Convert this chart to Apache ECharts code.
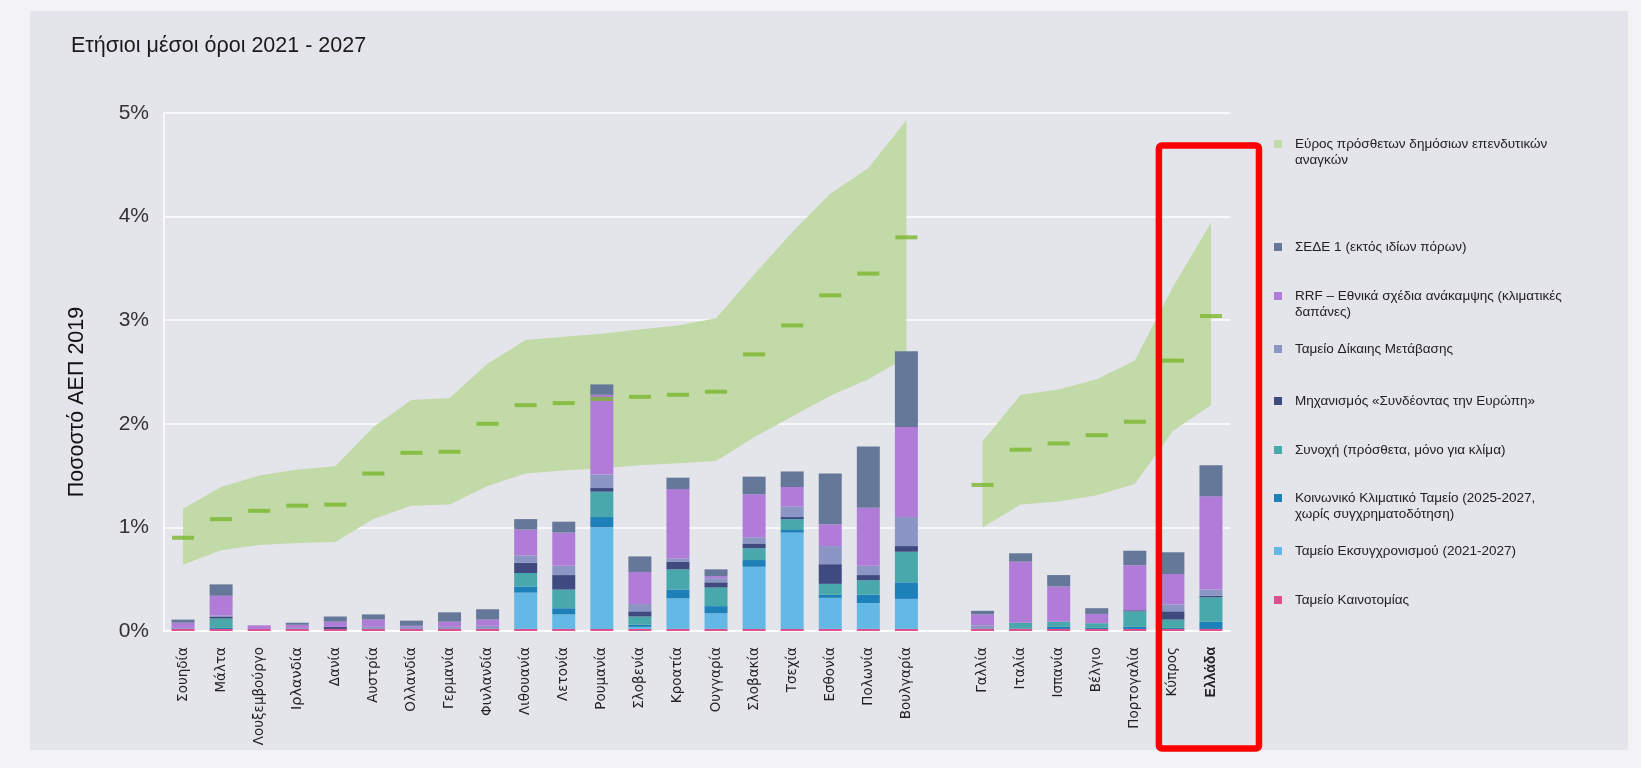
<!DOCTYPE html>
<html lang="el">
<head>
<meta charset="utf-8">
<title>Ετήσιοι μέσοι όροι 2021 - 2027</title>
<script src="https://cdn.jsdelivr.net/npm/echarts@6/dist/echarts.min.js"></script>
<style>
  html, body { margin: 0; padding: 0; width: 1641px; height: 768px; background: #f3f3f6; overflow: hidden; }
  .panel { position: absolute; left: 30px; top: 11px; width: 1598px; height: 739px; background: #e4e4eb; }
  #chart { position: absolute; left: 0; top: 0; width: 1641px; height: 768px; }
</style>
</head>
<body>
<div class="panel"></div>
<div id="chart"></div>
<script>
// χώρες (η κενή θέση χωρίζει τις δύο ομάδες)
var countries = ['Σουηδία', 'Μάλτα', 'Λουξεμβούργο', 'Ιρλανδία', 'Δανία', 'Αυστρία', 'Ολλανδία', 'Γερμανία',
  'Φινλανδία', 'Λιθουανία', 'Λετονία', 'Ρουμανία', 'Σλοβενία', 'Κροατία', 'Ουγγαρία', 'Σλοβακία', 'Τσεχία',
  'Εσθονία', 'Πολωνία', 'Βουλγαρία', '', 'Γαλλία', 'Ιταλία', 'Ισπανία', 'Βέλγιο', 'Πορτογαλία', 'Κύπρος', 'Ελλάδα'];

// εύρος πρόσθετων επενδυτικών αναγκών (% ΑΕΠ 2019)
var rangeLow = [0.64, 0.78, 0.83, 0.85, 0.86, 1.08, 1.21, 1.22, 1.40, 1.52, 1.55, 1.57, 1.60, 1.62, 1.64, 1.87, 2.07, 2.27, 2.43, 2.64,
  null, 1.00, 1.22, 1.25, 1.31, 1.42, 1.93, 2.18];
var rangeHigh = [1.18, 1.39, 1.50, 1.56, 1.59, 1.97, 2.23, 2.25, 2.58, 2.81, 2.84, 2.87, 2.91, 2.95, 3.02, 3.44, 3.85, 4.22, 4.47, 4.93,
  null, 1.83, 2.28, 2.33, 2.43, 2.61, 3.32, 3.94];
var rangeMid = [0.90, 1.08, 1.16, 1.21, 1.22, 1.52, 1.72, 1.73, 2.00, 2.18, 2.20, 2.24, 2.26, 2.28, 2.31, 2.67, 2.95, 3.24, 3.45, 3.80,
  null, 1.41, 1.75, 1.81, 1.89, 2.02, 2.61, 3.04];

// πηγές χρηματοδότησης (στοίβα, από κάτω προς τα πάνω)
var innovation = [0.02, 0.02, 0.02, 0.02, 0.02, 0.02, 0.02, 0.02, 0.02, 0.02, 0.02, 0.02, 0.02, 0.02, 0.02, 0.02, 0.02, 0.02, 0.02, 0.02,
  null, 0.02, 0.02, 0.02, 0.02, 0.02, 0.02, 0.02];
var modernisation = [0, 0, 0, 0, 0, 0, 0, 0, 0, 0.35, 0.14, 0.98, 0.02, 0.295, 0.15, 0.60, 0.93, 0.30, 0.25, 0.29,
  null, 0, 0, 0, 0, 0, 0, 0];
var socialClimate = [0, 0.01, 0, 0, 0, 0, 0, 0, 0, 0.06, 0.06, 0.10, 0.02, 0.085, 0.07, 0.065, 0.025, 0.03, 0.08, 0.16,
  null, 0, 0.005, 0.02, 0.01, 0.02, 0.01, 0.07];
var cohesion = [0, 0.09, 0, 0, 0, 0, 0, 0, 0, 0.13, 0.18, 0.245, 0.08, 0.195, 0.18, 0.115, 0.105, 0.105, 0.14, 0.295,
  null, 0, 0.055, 0.05, 0.045, 0.15, 0.08, 0.235];
var cef = [0, 0.02, 0, 0, 0.02, 0, 0, 0, 0, 0.10, 0.14, 0.035, 0.05, 0.075, 0.05, 0.045, 0.02, 0.19, 0.05, 0.055,
  null, 0, 0, 0, 0, 0.01, 0.08, 0.015];
var jtf = [0.01, 0.01, 0, 0.01, 0, 0.02, 0.02, 0.02, 0.03, 0.07, 0.09, 0.13, 0.07, 0.03, 0.04, 0.06, 0.10, 0.175, 0.09, 0.28,
  null, 0.035, 0, 0, 0, 0, 0.065, 0.06];
var rrf = [0.05, 0.19, 0.035, 0.03, 0.05, 0.07, 0.01, 0.05, 0.06, 0.25, 0.32, 0.77, 0.31, 0.67, 0.02, 0.415, 0.19, 0.21, 0.56, 0.87,
  null, 0.105, 0.59, 0.34, 0.09, 0.435, 0.295, 0.90];
var ets = [0.03, 0.11, 0, 0.02, 0.05, 0.05, 0.05, 0.09, 0.10, 0.10, 0.105, 0.10, 0.15, 0.11, 0.065, 0.17, 0.15, 0.49, 0.59, 0.73,
  null, 0.035, 0.08, 0.11, 0.055, 0.14, 0.21, 0.30];

var yTicks = [0, 1, 2, 3, 4, 5];

var RANGE_NAME = 'Εύρος πρόσθετων δημόσιων επενδυτικών\nαναγκών';
var bandColor = '#c1daa7';
var dashColor = '#79b62b';
var labelFont = 'Liberation Sans, Arial, sans-serif';

// ονόματα, χρώματα και θέση υπομνήματος
var fundSeries = [
  { name: 'Ταμείο Καινοτομίας', data: innovation, color: '#dc508c', legendY: 600 },
  { name: 'Ταμείο Εκσυγχρονισμού (2021-2027)', data: modernisation, color: '#64b8e6', legendY: 551 },
  { name: 'Κοινωνικό Κλιματικό Ταμείο (2025-2027,\nχωρίς συγχρηματοδότηση)', data: socialClimate, color: '#1e80b8', legendY: 498 },
  { name: 'Συνοχή (πρόσθετα, μόνο για κλίμα)', data: cohesion, color: '#48a8ac', legendY: 450 },
  { name: 'Μηχανισμός «Συνδέοντας την Ευρώπη»', data: cef, color: '#3e4a80', legendY: 401 },
  { name: 'Ταμείο Δίκαιης Μετάβασης', data: jtf, color: '#8c96c4', legendY: 349 },
  { name: 'RRF – Εθνικά σχέδια ανάκαμψης (κλιματικές\nδαπάνες)', data: rrf, color: '#b07cd8', legendY: 296 },
  { name: 'ΣΕΔΕ 1 (εκτός ιδίων πόρων)', data: ets, color: '#667899', legendY: 247 }
];

var chart = echarts.init(document.getElementById('chart'));

var series = [
  {
    name: 'rangeBase',
    type: 'line',
    stack: 'range',
    data: rangeLow,
    symbol: 'none',
    silent: true,
    lineStyle: { opacity: 0 },
    z: 1
  },
  {
    name: RANGE_NAME,
    type: 'line',
    stack: 'range',
    data: rangeHigh.map(function (v, i) { return v == null ? null : +(v - rangeLow[i]).toFixed(3); }),
    symbol: 'none',
    silent: true,
    itemStyle: { color: bandColor },
    lineStyle: { opacity: 0 },
    areaStyle: { color: bandColor, opacity: 1 },
    z: 1
  }
];

fundSeries.forEach(function (s) {
  series.push({
    name: s.name,
    type: 'bar',
    stack: 'funds',
    barWidth: 23,
    data: s.data,
    itemStyle: { color: s.color },
    z: 3
  });
});

series.push({
  name: 'mid',
  type: 'scatter',
  data: rangeMid,
  symbol: 'rect',
  symbolSize: [22, 4],
  itemStyle: { color: dashColor },
  silent: true,
  z: 5
});

// ένα υπόμνημα για κάθε γραμμή, ώστε οι αποστάσεις να είναι σταθερές
var legendRows = [{ name: RANGE_NAME, color: bandColor, legendY: 144 }].concat(fundSeries.slice().reverse());
var legends = legendRows.map(function (r) {
  var twoLines = r.name.indexOf('\n') >= 0;
  return {
    data: [{ name: r.name, itemStyle: { color: r.color } }],
    left: 1274,
    top: r.legendY - (twoLines ? 24 : 8),
    padding: 0,
    icon: 'rect',
    itemWidth: 8,
    itemHeight: 8,
    selectedMode: false,
    // κενή πρώτη γραμμή: το τετράγωνο μένει δίπλα στην πρώτη γραμμή του κειμένου
    formatter: twoLines ? function (name) { return '\n' + name; } : '{name}',
    textStyle: {
      fontFamily: labelFont,
      fontSize: 13.5,
      lineHeight: 16,
      color: '#222',
      padding: [0, 0, 0, 8]
    }
  };
});

var option = {
  animation: false,
  title: {
    text: 'Ετήσιοι μέσοι όροι 2021 - 2027',
    left: 66,
    top: 30,
    textStyle: {
      fontFamily: labelFont,
      fontSize: 21.5,
      fontWeight: 'normal',
      color: '#1a1a1a'
    }
  },
  legend: legends,
  grid: { left: 164, right: 411, top: 113, bottom: 137 },
  xAxis: {
    type: 'category',
    data: countries.map(function (c) {
      if (c === 'Ελλάδα') return { value: c, textStyle: { fontWeight: 'bold', fontFamily: labelFont, fontSize: 14 } };
      if (c === 'Ιρλανδία') return { value: c, textStyle: { fontSize: 14.5 } };
      return c;
    }),
    axisTick: { show: false },
    axisLine: { lineStyle: { color: '#ffffff', width: 2 } },
    axisLabel: {
      interval: 0,
      rotate: 90,
      margin: 16,
      fontFamily: 'DejaVu Sans, sans-serif',
      fontSize: 13.5,
      color: '#222'
    }
  },
  yAxis: {
    type: 'value',
    min: yTicks[0],
    max: yTicks[yTicks.length - 1],
    interval: 1,
    name: 'Ποσοστό ΑΕΠ 2019',
    nameLocation: 'middle',
    nameGap: 76,
    nameTextStyle: {
      fontFamily: labelFont,
      fontSize: 21.5,
      color: '#111',
      padding: [0, 60, 0, 0]
    },
    axisLine: { show: true, lineStyle: { color: '#ffffff', width: 1.5 } },
    axisTick: { show: false },
    splitLine: { lineStyle: { color: '#ffffff', width: 1.5 } },
    axisLabel: {
      margin: 15,
      formatter: '{value}%',
      fontFamily: labelFont,
      fontSize: 21,
      color: '#333'
    }
  },
  series: series
};

chart.setOption(option);

// κόκκινο πλαίσιο γύρω από Κύπρο και Ελλάδα
var xCy = chart.convertToPixel({ xAxisIndex: 0 }, 'Κύπρος');
var xGr = chart.convertToPixel({ xAxisIndex: 0 }, 'Ελλάδα');
chart.setOption({
  graphic: [{
    type: 'rect',
    z: 100,
    shape: { x: xCy - 14, y: 145.5, width: xGr - xCy + 62, height: 603, r: 3 },
    style: { fill: 'none', stroke: '#ff0000', lineWidth: 6.5 }
  }]
});
</script>
</body>
</html>
